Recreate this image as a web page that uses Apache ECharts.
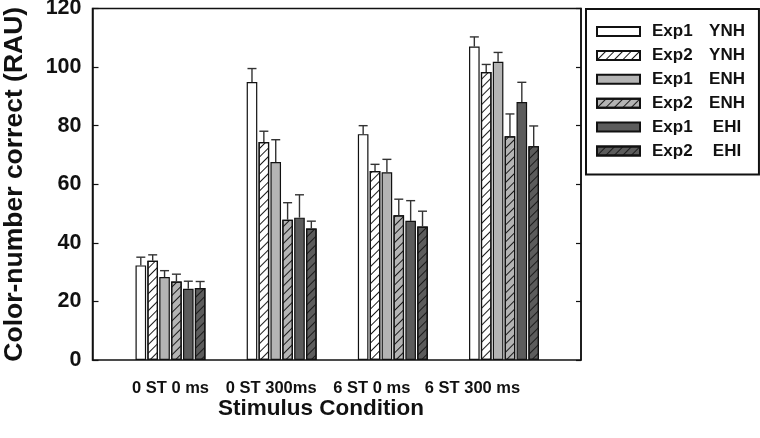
<!DOCTYPE html>
<html>
<head>
<meta charset="utf-8">
<script src="https://cdn.jsdelivr.net/npm/echarts@6/dist/echarts.min.js"></script>
<style>html,body{margin:0;padding:0;background:#fff}#c{width:760px;height:438px}</style>
</head>
<body>
<div id="c"></div>
<script>
const categories = ['0 ST 0 ms', '0 ST 300ms', '6 ST 0 ms', '6 ST 300 ms'];
const seriesNames = ['Exp1 YNH', 'Exp2 YNH', 'Exp1 ENH', 'Exp2 ENH', 'Exp1 EHI', 'Exp2 EHI'];
const exp1YNH = [32.3, 94.9, 77.1, 107.0];
const exp2YNH = [33.9, 74.4, 64.5, 98.3];
const exp1ENH = [28.3, 67.6, 64.1, 101.8];
const exp2ENH = [26.8, 47.9, 49.4, 76.4];
const exp1EHI = [24.3, 48.6, 47.5, 88.1];
const exp2EHI = [24.6, 44.9, 45.6, 73.0];
const err1YNH = [2.8, 4.6, 2.9, 3.3];
const err2YNH = [2.0, 3.7, 2.3, 2.6];
const err1ENH = [2.2, 7.6, 4.4, 3.2];
const err2ENH = [2.5, 5.8, 5.5, 7.6];
const err1EHI = [2.6, 7.8, 6.9, 6.7];
const err2EHI = [2.2, 2.5, 5.2, 6.9];
const yTicks = [0, 20, 40, 60, 80, 100, 120];

const values = [exp1YNH, exp2YNH, exp1ENH, exp2ENH, exp1EHI, exp2EHI];
const errors = [err1YNH, err2YNH, err1ENH, err2ENH, err1EHI, err2EHI];
const fills = ['#ffffff', '#ffffff', '#b4b4b4', '#b4b4b4', '#5c5c5c', '#5c5c5c'];
const hatched = [false, true, false, true, false, true];

const FONT = '"Liberation Sans", Arial, sans-serif';
const BAR_W = 10.6;
const GAP_PCT = 0.12;
const PITCH = BAR_W * (1 + GAP_PCT);
const Y_MIN = yTicks[0], Y_MAX = yTicks[yTicks.length - 1];

const hatch = {
  symbol: 'rect', symbolSize: 1, color: '#1a1a1a',
  dashArrayX: [1, 0], dashArrayY: [0.75, 4.1], rotation: -Math.PI / 4
};

const series = [];
values.forEach((vals, i) => {
  series.push({
    name: seriesNames[i], type: 'bar', xAxisIndex: 1, yAxisIndex: 2,
    barWidth: BAR_W, barGap: (GAP_PCT * 100) + '%',
    data: vals,
    itemStyle: Object.assign({ color: fills[i], borderColor: '#111', borderWidth: 1.2 },
      hatched[i] ? { decal: hatch } : {}),
    emphasis: { disabled: true }, z: 2
  });
});
values.forEach((vals, i) => {
  const off = (i - 2.5) * PITCH;
  series.push({
    type: 'custom', xAxisIndex: 1, yAxisIndex: 2, z: 3, silent: true,
    data: categories.map((c, k) => [k, vals[k], vals[k] + errors[i][k]]),
    renderItem: function (params, api) {
      const b = api.coord([api.value(0), api.value(1)]);
      const t = api.coord([api.value(0), api.value(2)]);
      const x = b[0] + off;
      const st = { stroke: '#333', lineWidth: 1.4 };
      return { type: 'group', children: [
        { type: 'line', shape: { x1: x, y1: b[1], x2: x, y2: t[1] }, style: st },
        { type: 'line', shape: { x1: x - 4.5, y1: t[1], x2: x + 4.5, y2: t[1] }, style: st }
      ] };
    }
  });
});

const option = {
  animation: false,
  backgroundColor: '#fff',
  textStyle: { fontFamily: FONT },
  grid: [
    { left: 92.5, right: 179, top: 8.5, bottom: 78, show: true, borderColor: '#111', borderWidth: 1.5, containLabel: false, outerBoundsMode: 'none' },
    { left: 114.9, right: 200.4, top: 8.5, bottom: 78, containLabel: false, outerBoundsMode: 'none' },
    { left: 120.2, right: 237.2, top: 8.5, bottom: 78, containLabel: false, outerBoundsMode: 'none' }
  ],
  title: {
    text: 'Stimulus Condition', left: 316, top: 392, textAlign: 'center',
    textStyle: { fontFamily: FONT, fontSize: 22.5, fontWeight: 'bold', color: '#111' }
  },
  legend: {
    data: seriesNames, orient: 'vertical', left: 586, top: 9,
    padding: [14, 14, 15, 10], itemGap: 6.9, itemWidth: 43, itemHeight: 9,
    borderColor: '#111', borderWidth: 2, icon: 'rect',
    selectedMode: false,
    formatter: name => { const p = name.split(' '); return '{a|' + p[0] + '}{b|' + p[1] + '}'; },
    textStyle: {
      color: '#111', fontFamily: FONT, fontWeight: 'bold', fontSize: 17,
      rich: {
        a: { fontFamily: FONT, fontWeight: 'bold', fontSize: 17, color: '#111', width: 55, padding: [0, 0, 0, 7] },
        b: { fontFamily: FONT, fontWeight: 'bold', fontSize: 17, color: '#111', width: 40, align: 'center' }
      }
    }
  },
  xAxis: [{
    type: 'value', gridIndex: 0, min: 0, max: 1, show: false
  }, {
    type: 'category', gridIndex: 1, data: categories,
    axisLine: { show: false }, axisTick: { show: false }, splitLine: { show: false },
    axisLabel: { show: false }
  }, {
    type: 'category', gridIndex: 2, data: categories,
    axisLine: { show: false }, axisTick: { show: false }, splitLine: { show: false },
    axisLabel: { interval: 0, margin: 20, color: '#111', fontFamily: FONT, fontWeight: 'bold', fontSize: 16.5 }
  }],
  yAxis: [{
    type: 'value', gridIndex: 0, min: Y_MIN, max: Y_MAX, interval: 20,
    name: 'Color-number correct (RAU)', nameLocation: 'middle', nameGap: 64,
    nameTextStyle: { fontFamily: FONT, fontWeight: 'bold', fontSize: 26.5, color: '#111' },
    axisLine: { show: true, lineStyle: { color: '#111', width: 1.5 } },
    axisTick: { show: true, inside: true, length: 6, lineStyle: { color: '#111', width: 1.2 } },
    splitLine: { show: false },
    axisLabel: { margin: 11, color: '#111', fontFamily: FONT, fontWeight: 'bold', fontSize: 21.5 }
  }, {
    type: 'value', gridIndex: 0, position: 'right', min: Y_MIN, max: Y_MAX, interval: 20,
    axisLine: { show: true, lineStyle: { color: '#111', width: 1.5 } },
    axisTick: { show: true, inside: true, length: 5, lineStyle: { color: '#111', width: 1.2 } },
    axisLabel: { show: false }, splitLine: { show: false }
  }, {
    type: 'value', gridIndex: 1, min: Y_MIN, max: Y_MAX, interval: 20, show: false
  }, {
    type: 'value', gridIndex: 2, min: Y_MIN, max: Y_MAX, interval: 20, show: false
  }],
  series: series
};
const chart = echarts.init(document.getElementById('c'), null, { renderer: 'canvas' });
chart.setOption(option);
</script>
</body>
</html>
